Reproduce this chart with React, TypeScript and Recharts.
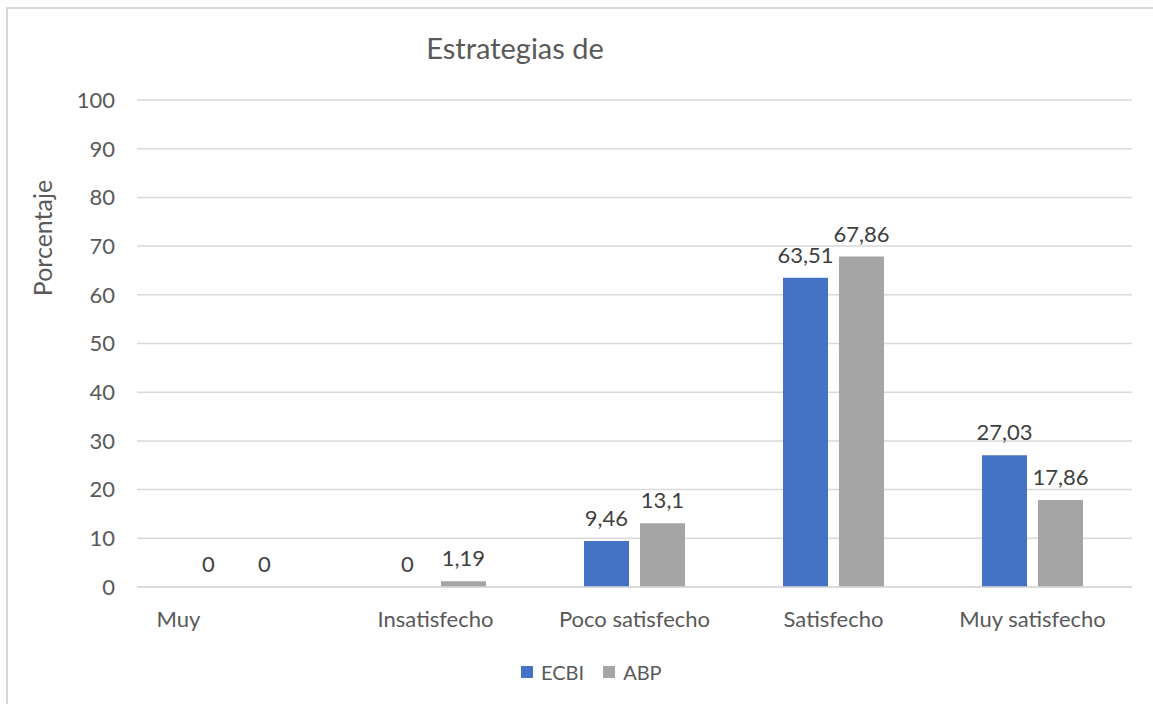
import { BarChart, Bar, XAxis, YAxis, CartesianGrid, LabelList } from 'recharts';

const categories = ['Muy', 'Insatisfecho', 'Poco satisfecho', 'Satisfecho', 'Muy satisfecho'];
const ecbi = [0, 0, 9.46, 63.51, 27.03];
const abp = [0, 1.19, 13.1, 67.86, 17.86];
const yTicks = [0, 10, 20, 30, 40, 50, 60, 70, 80, 90, 100];

const data = categories.map((name, i) => ({ name, ECBI: ecbi[i], ABP: abp[i] }));

const FONT = 'Lato, "Open Sans", sans-serif';
const TEXT = '#595959';
const BLUE = '#4472C4';
const GRAY = '#A5A5A5';

const fmt = (v: any) => String(v).replace('.', ',');

// first label sits left of its slot
const CategoryTick = ({ x, y, payload, index }: any) => (
  <text
    x={index === 0 ? x - 58 : x}
    y={y}
    dy="0.71em"
    textAnchor="middle"
    fill={TEXT}
    fontSize={22}
    fontFamily={FONT}
  >
    {payload.value}
  </text>
);

export default function App() {
  return (
    <div style={{ position: 'fixed', left: 0, top: 0, width: 1153, height: 704, background: '#fff', overflow: 'hidden' }}>
      <div
        style={{
          position: 'absolute',
          left: 6,
          top: 7,
          width: 1200,
          height: 760,
          border: '2px solid #d9d9d9',
        }}
      />
      <div
        style={{
          position: 'absolute',
          left: 0,
          top: 30,
          width: 1030,
          textAlign: 'center',
          fontFamily: FONT,
          fontSize: 29,
          color: TEXT,
        }}
      >
        Estrategias de
      </div>
      <div
        style={{
          position: 'absolute',
          left: 42,
          top: 238,
          transform: 'translate(-50%, -50%) rotate(-90deg)',
          fontFamily: FONT,
          fontSize: 25,
          color: TEXT,
          whiteSpace: 'nowrap',
        }}
      >
        Porcentaje
      </div>
      <div style={{ position: 'absolute', left: 0, top: 0 }}>
        <BarChart
          width={1153}
          height={704}
          data={data}
          margin={{ top: 100, right: 21, left: 77, bottom: 87 }}
          barSize={45}
          barGap={11}
        >
          <CartesianGrid vertical={false} stroke="#d9d9d9" strokeWidth={1.5} />
          <XAxis
            dataKey="name"
            height={30}
            axisLine={{ stroke: '#d9d9d9', strokeWidth: 1.5 }}
            tickLine={false}
            tickMargin={18}
            tick={<CategoryTick />}
            interval={0}
          />
          <YAxis
            width={60}
            domain={[0, 100]}
            ticks={yTicks}
            axisLine={false}
            tickLine={false}
            tickMargin={16}
            tick={{ fill: TEXT, fontSize: 22, fontFamily: FONT }}
          />
          <Bar dataKey="ECBI" fill={BLUE} minPointSize={0.01} isAnimationActive={false}>
            <LabelList
              dataKey="ECBI"
              position="top"
              offset={15}
              formatter={fmt}
              style={{ fill: '#404040', fontSize: 22, fontFamily: FONT }}
            />
          </Bar>
          <Bar dataKey="ABP" fill={GRAY} minPointSize={0.01} isAnimationActive={false}>
            <LabelList
              dataKey="ABP"
              position="top"
              offset={15}
              formatter={fmt}
              style={{ fill: '#404040', fontSize: 22, fontFamily: FONT }}
            />
          </Bar>
        </BarChart>
      </div>
      <div
        style={{
          position: 'absolute',
          left: 521,
          top: 660,
          display: 'flex',
          alignItems: 'center',
          fontFamily: FONT,
          fontSize: 20,
          color: TEXT,
        }}
      >
        <span style={{ width: 12, height: 12, background: BLUE, display: 'inline-block', marginRight: 8 }} />
        <span style={{ marginRight: 19 }}>ECBI</span>
        <span style={{ width: 12, height: 12, background: GRAY, display: 'inline-block', marginRight: 8 }} />
        <span>ABP</span>
      </div>
    </div>
  );
}
